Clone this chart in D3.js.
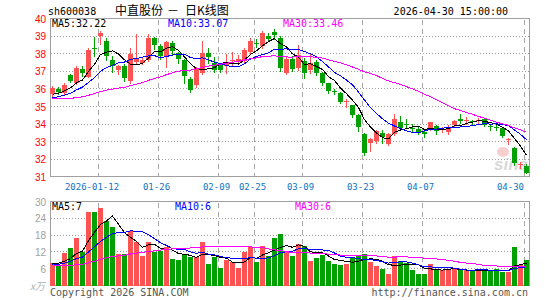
<!DOCTYPE html>
<html><head><meta charset="utf-8">
<script src="https://cdn.jsdelivr.net/npm/d3@7/dist/d3.min.js"></script>
<style>
html,body{margin:0;padding:0;background:#fff;}
svg{display:block;}
</style></head><body>
<svg id="chart" width="545" height="300"></svg>
<script>
// ---------- DATA ----------
const dates = [
 "2025-12-29","2025-12-30","2025-12-31","2026-01-05","2026-01-06","2026-01-07","2026-01-08","2026-01-09",
 "2026-01-12","2026-01-13","2026-01-14","2026-01-15","2026-01-16","2026-01-19","2026-01-20","2026-01-21",
 "2026-01-22","2026-01-23","2026-01-26","2026-01-27","2026-01-28","2026-01-29","2026-01-30","2026-02-02",
 "2026-02-03","2026-02-04","2026-02-05","2026-02-06","2026-02-09","2026-02-10","2026-02-11","2026-02-12",
 "2026-02-13","2026-02-24","2026-02-25","2026-02-26","2026-02-27","2026-03-02","2026-03-03","2026-03-04",
 "2026-03-05","2026-03-06","2026-03-09","2026-03-10","2026-03-11","2026-03-12","2026-03-13","2026-03-16",
 "2026-03-17","2026-03-18","2026-03-19","2026-03-20","2026-03-23","2026-03-24","2026-03-25","2026-03-26",
 "2026-03-27","2026-03-30","2026-03-31","2026-04-01","2026-04-02","2026-04-03","2026-04-07","2026-04-08",
 "2026-04-09","2026-04-10","2026-04-13","2026-04-14","2026-04-15","2026-04-16","2026-04-17","2026-04-20",
 "2026-04-21","2026-04-22","2026-04-23","2026-04-24","2026-04-27","2026-04-28","2026-04-29","2026-04-30"];

const open = [35.70,36.00,35.75,36.78,36.35,37.15,36.70,38.32,39.00,38.70,
 37.67,37.07,37.33,36.44,37.55,37.50,37.67,38.90,38.45,37.86,
 38.60,38.05,37.64,36.58,36.20,36.92,38.02,37.48,37.35,37.30,
 37.60,37.55,37.60,38.10,38.60,38.45,39.00,39.25,38.90,36.90,
 37.68,37.20,37.58,37.10,37.55,36.88,36.32,35.90,35.75,35.27,
 35.07,34.52,33.43,32.95,33.05,33.52,32.90,33.45,34.10,34.02,
 33.78,33.75,33.58,33.68,33.92,33.70,33.55,33.95,34.28,34.20,
 34.18,34.22,34.28,33.88,33.85,33.80,33.12,32.65,31.70,31.65];

const close = [36.07,35.80,36.20,36.45,37.20,36.90,38.20,38.28,39.19,37.86,
 37.29,37.29,36.63,37.96,37.70,37.62,38.90,38.50,37.86,38.66,
 38.15,37.72,36.72,35.93,37.20,38.03,37.80,37.07,37.10,37.55,
 37.65,37.70,38.20,38.70,38.55,39.15,38.85,39.05,37.20,37.70,
 37.15,37.95,36.92,37.45,36.90,36.32,35.90,35.85,35.28,35.30,
 34.50,33.82,32.38,33.15,33.60,33.25,33.42,34.28,33.80,33.95,
 33.75,33.58,33.42,34.13,33.62,33.75,33.82,34.20,34.18,34.25,
 34.15,34.25,33.95,33.85,33.82,33.30,33.15,31.80,31.72,31.20];

const high = [36.15,36.10,36.35,36.85,37.30,37.30,38.30,38.95,39.28,38.90,
 37.85,37.35,37.40,38.30,39.10,37.80,39.10,38.95,38.55,38.75,
 38.75,38.10,37.70,36.65,37.25,38.70,38.30,37.82,37.50,38.00,
 38.10,37.95,38.30,38.90,38.85,39.30,39.15,39.40,39.00,37.80,
 37.85,38.50,37.75,38.05,37.65,36.95,36.35,36.00,35.80,35.45,
 35.10,34.55,33.50,33.20,33.65,33.65,33.50,34.60,34.45,34.30,
 34.00,33.90,33.70,34.15,33.95,33.85,33.95,34.25,34.60,34.40,
 34.25,34.35,34.32,34.00,34.05,33.85,33.20,32.70,31.85,31.75];

const low = [35.60,35.70,35.65,36.40,36.30,36.75,36.65,37.85,38.55,37.65,
 36.95,36.85,36.45,36.35,37.50,37.40,37.60,38.25,37.70,37.25,
 37.95,37.50,36.35,35.80,36.10,36.85,37.50,36.97,36.95,36.90,
 37.35,37.40,37.50,38.05,38.40,38.35,38.70,38.85,37.00,36.85,
 37.00,37.10,36.60,36.90,36.80,36.20,35.75,35.70,35.20,34.95,
 34.40,33.62,32.25,32.50,32.95,32.95,32.80,33.40,33.65,33.80,
 33.55,33.45,33.25,33.65,33.45,33.55,33.45,33.90,34.05,34.00,
 33.95,34.05,33.90,33.65,33.65,33.25,32.85,31.70,31.50,31.20];

// volume, 万手
const volume = [8.0,7.2,11.5,13.5,17.0,12.0,26.2,26.2,27.6,23.2,
 21.0,11.2,11.2,19.6,15.6,10.6,15.5,12.1,12.4,13.9,
 9.4,9.0,11.2,10.2,10.2,15.4,7.8,10.2,6.2,9.2,
 8.4,6.3,12.0,13.8,8.3,14.0,10.4,16.8,18.4,12.0,
 10.6,14.8,14.1,8.8,10.0,10.9,8.8,7.8,7.4,7.8,
 9.8,10.4,11.2,8.4,7.1,6.0,4.2,10.6,8.6,8.0,
 5.6,4.2,4.2,7.8,6.0,5.4,5.4,6.0,5.4,5.4,
 5.1,5.1,5.1,5.4,6.0,5.0,5.0,13.8,7.2,9.0];

// sessions before the visible window (only feed the moving averages)
const priorCloses = [36.10,36.20,36.15,35.80,35.60,35.50,35.60,35.60,35.40,35.50,
 35.50,35.40,35.20,35.00,35.10,35.00,35.20,35.10,35.00,34.90,
 35.20,35.30,35.40,35.30,35.30,35.56,35.50,35.60,35.77];
const priorVolumes = [11,12,13,12,9,8,8,8,7,8,5,5,4.5,5,5,4.5,5,5,5.5,5,6.5,7,7,7.5,7,7.5,8,8.5,8];

const maPeriods = [5, 10, 30];
const priceMaLabels = ["32.22", "33.07", "33.46"];
const volMaLabels = ["7", "6", "6"];

const priceTicks = [40,39,38,37,36,35,34,33,32,31];
const volTicks = [30,24,18,12,6];
const dateTicks = ["2026-01-12","2026-01-26","2026-02-09","2026-02-25","2026-03-09","2026-03-23","2026-04-07","2026-04-30"];
const dateTickLabels = ["2026-01-12","01-26","02-09","02-25","03-09","03-23","04-07","04-30"];

const code = "sh600038";
const titleParts = ["中直股份", "－", "日K线图"];
const timeText = "2026-04-30 15:00:00";

// ---------- RENDER ----------
const UP = "#ff5252", DOWN = "#00a000";
const maColors = ["#000000", "#0000ff", "#ff00ff"];
const MONO = "'DejaVu Sans Mono', monospace";
const SANS = "'Liberation Sans', Arial, sans-serif";
const CJK = "'Noto Sans CJK SC', sans-serif";

const svg = d3.select("#chart");
const n = dates.length;
const x = d3.scaleBand().domain(d3.range(n)).range([50, 530]).paddingInner(0).paddingOuter(0);
const y = d3.scaleLinear().domain([31, 40]).range([177, 18.5]);
const yv = d3.scaleLinear().domain([0, 30]).range([285.5, 201.5]);
const cx = i => x(i) + 2.5;
const px = v => Math.floor(v) + 0.5;

function movingAvg(series, prior, p) {
  const all = prior.concat(series);
  return series.map((_, i) => {
    const end = prior.length + i;
    return d3.mean(all.slice(end - p + 1, end + 1));
  });
}

// frames & grids
function panel(top, bottom, hTicks, yScale) {
  const g = svg.append("g");
  g.selectAll("line.h").data(hTicks).join("line")
    .attr("x1", 51).attr("x2", 529)
    .attr("y1", d => px(yScale(d))).attr("y2", d => px(yScale(d)))
    .attr("stroke", "#9a9a9a").attr("stroke-dasharray", "1,2")
    .attr("shape-rendering", "crispEdges");
  g.selectAll("line.v").data(dateTicks).join("line")
    .attr("x1", d => x(dates.indexOf(d)) + 0.5).attr("x2", d => x(dates.indexOf(d)) + 0.5)
    .attr("y1", top + 1).attr("y2", bottom)
    .attr("stroke", "#a8a8a8").attr("stroke-dasharray", "5,4")
    .attr("shape-rendering", "crispEdges");
  g.append("rect").attr("x", 50.5).attr("y", top).attr("width", 479).attr("height", bottom - top)
    .attr("fill", "none").attr("stroke", "#a0a0a0").attr("shape-rendering", "crispEdges");
}
panel(18.5, 176.5, priceTicks.slice(1, -1), y);
panel(201.5, 285.5, volTicks.slice(1), yv);

// watermark
const wm = svg.append("g").attr("opacity", 0.6);
wm.append("ellipse").attr("cx", 503).attr("cy", 152).attr("rx", 6).attr("ry", 5).attr("fill", "#f2b0b0");
wm.append("text").attr("x", 511).attr("y", 170).attr("text-anchor", "middle")
  .attr("font-family", SANS).attr("font-size", 17).attr("font-weight", "bold").attr("font-style", "italic")
  .attr("fill", "#c0c0c0").text("sina");

// candles
const cg = svg.append("g").attr("shape-rendering", "crispEdges");
d3.range(n).forEach(i => {
  const up = close[i] >= open[i];
  const col = up ? UP : DOWN;
  cg.append("line").attr("x1", cx(i)).attr("x2", cx(i))
    .attr("y1", Math.round(y(high[i]))).attr("y2", Math.round(y(low[i])) + 1)
    .attr("stroke", col);
  const t = Math.round(y(Math.max(open[i], close[i])));
  const b = Math.round(y(Math.min(open[i], close[i])));
  cg.append("rect").attr("x", x(i)).attr("y", t).attr("width", 5).attr("height", Math.max(1, b - t))
    .attr("fill", col);
});

// volume bars
svg.append("g").attr("shape-rendering", "crispEdges")
  .selectAll("rect").data(volume).join("rect")
  .attr("x", (d, i) => x(i)).attr("width", 5)
  .attr("y", d => Math.round(yv(d))).attr("height", d => Math.round(yv(0)) - Math.round(yv(d)))
  .attr("fill", (d, i) => close[i] >= open[i] ? UP : DOWN);

// moving averages
maPeriods.forEach((p, k) => {
  const pm = movingAvg(close, priorCloses, p);
  svg.append("path").datum(pm)
    .attr("d", d3.line().x((d, i) => cx(i)).y(d => y(d)))
    .attr("fill", "none").attr("stroke", maColors[k]).attr("stroke-width", 1)
    .attr("shape-rendering", "crispEdges");
  const vm = movingAvg(volume, priorVolumes, p);
  svg.append("path").datum(vm)
    .attr("d", d3.line().x((d, i) => cx(i)).y(d => yv(d)))
    .attr("fill", "none").attr("stroke", maColors[k]).attr("stroke-width", 1)
    .attr("shape-rendering", "crispEdges");
});

// texts
function txt(xp, yp, s, opts = {}) {
  return svg.append("text").attr("x", xp).attr("y", yp)
    .attr("font-family", opts.family || MONO).attr("font-size", opts.size || 10)
    .attr("fill", opts.fill || "#000").attr("text-anchor", opts.anchor || "start")
    .attr("font-style", opts.style || "normal")
    .text(s);
}
txt(48, 15, code);
txt(115, 14.5, titleParts[0], {family: CJK, size: 12});
txt(167, 14.5, titleParts[1], {family: CJK, size: 12});
txt(185, 14.5, titleParts[2], {family: CJK, size: 12});
txt(508, 15, timeText, {anchor: "end"});

priceTicks.forEach(v => txt(46, y(v) + 4, String(v), {family: SANS, fill: "#ff0000", anchor: "end"}));
volTicks.forEach(v => txt(46, yv(v) + 4, String(v), {family: SANS, fill: "#a0a0a0", anchor: "end"}));
txt(45, 290, "x万", {family: CJK, fill: "#b0b0b0", anchor: "end", style: "italic", size: 10});

const priceLabelX = [52, 168, 283];
const volLabelX = [52, 175, 295];
maPeriods.forEach((p, k) => {
  txt(priceLabelX[k], 27, "MA" + p + ":" + priceMaLabels[k], {fill: maColors[k]});
  txt(volLabelX[k], 210, "MA" + p + ":" + volMaLabels[k], {fill: maColors[k]});
});

dateTicks.forEach((d, k) => {
  const gx = x(dates.indexOf(d));
  const lab = dateTickLabels[k];
  let c = gx - 1.5;
  if (lab.length > 5) c = gx - 6;
  const w = lab.length * 5.42;
  c = Math.min(c, 524 - w / 2);
  txt(c, 190, lab, {size: 9, fill: "#1173c4", anchor: "middle"});
});

txt(50, 296, "Copyright 2026 SINA.COM", {fill: "#555"});
txt(528, 296, "http://finance.sina.com.cn", {fill: "#555", anchor: "end"});
</script>
</body></html>
